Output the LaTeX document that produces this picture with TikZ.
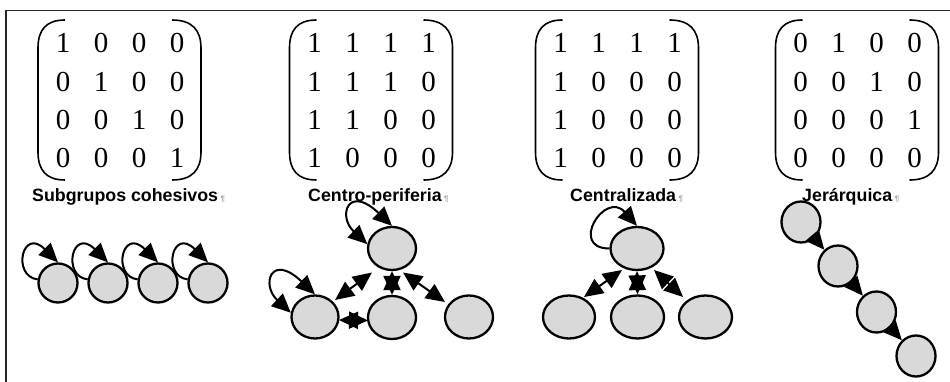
\documentclass[tikz,border=0pt]{standalone}
\usepackage{fontspec}
\setmainfont{Liberation Serif}
\newfontfamily\capfont{Liberation Sans}
\usetikzlibrary{shapes.geometric,arrows.meta,calc}
\definecolor{nodegray}{RGB}{217,217,217}
\newcommand\pilmark{\hspace{2.5pt}{\color{black!35}\fontsize{8}{8}\selectfont ¶}}
\newcommand\matblock[6]{%
  \draw[parenline] ({#1-55},20) .. controls ({#1-74},20) and ({#1-82},30) .. ({#1-82},48)
     -- ({#1-82},152) .. controls ({#1-82},170) and ({#1-74},180) .. ({#1-55},180);
  \draw[parenline] ({#1+52},20) .. controls ({#1+72},20) and ({#1+81},30) .. ({#1+81},48)
     -- ({#1+81},152) .. controls ({#1+81},170) and ({#1+72},180) .. ({#1+52},180);
  \foreach \v [count=\c] in {#3} \node[dig] (#2r1c\c) at ({#1+(\c-2.5)*38},53) {\v};
  \foreach \v [count=\c] in {#4} \node[dig] (#2r2c\c) at ({#1+(\c-2.5)*38},91.5) {\v};
  \foreach \v [count=\c] in {#5} \node[dig] (#2r3c\c) at ({#1+(\c-2.5)*38},130) {\v};
  \foreach \v [count=\c] in {#6} \node[dig] (#2r4c\c) at ({#1+(\c-2.5)*38},168) {\v};
}
\begin{document}
\begin{tikzpicture}[x=1pt,y=-1pt,
  >={Triangle[length=19pt,width=17pt]},
  parenline/.style={line width=1.6pt,black},
  dig/.style={anchor=base,inner sep=0pt,font=\fontsize{29}{29}\selectfont},
  captxt/.style={anchor=base west,inner sep=0pt,font=\capfont\bfseries\fontsize{17.8}{18}\selectfont},
  nd/.style={ellipse,draw=black,fill=nodegray,line width=2.3pt,inner sep=0pt},
  edge/.style={line width=2pt,black},
  framel/.style={line width=1.6pt,black!85}
]
\useasboundingbox (0,0) rectangle (950,382);
\draw[framel] (950,10.5) -- (6,10.5) -- (6,382);

% matrices
\matblock{120}{ma}{1,0,0,0}{0,1,0,0}{0,0,1,0}{0,0,0,1}
\matblock{371.5}{mb}{1,1,1,1}{1,1,1,0}{1,1,0,0}{1,0,0,0}
\matblock{617.5}{mc}{1,1,1,1}{1,0,0,0}{1,0,0,0}{1,0,0,0}
\matblock{857.5}{md}{0,1,0,0}{0,0,1,0}{0,0,0,1}{0,0,0,0}

% captions
\node[captxt] (capa) at (32,201) {Subgrupos cohesivos\pilmark};
\node[captxt] (capb) at (308,201) {Centro-periferia\pilmark};
\node[captxt] (capc) at (570,201) {Centralizada\pilmark};
\node[captxt] (capd) at (802,201) {Jerárquica\pilmark};

% Subgrupos cohesivos
\foreach \i/\x in {1/58,2/108,3/158,4/208}
  \node[nd,minimum width=39pt,minimum height=39pt] (s\i) at (\x,283) {};
\foreach \i in {1,2,3,4}
  \draw[edge,->] (s\i.170) .. controls +(-26,-3) and +(-36,-36) .. (s\i.north);

% Centro-periferia
\node[nd,minimum width=48pt,minimum height=43pt] (cT) at (392,248.5) {};
\node[nd,minimum width=47pt,minimum height=43pt] (cL) at (315,317) {};
\node[nd,minimum width=48pt,minimum height=43pt] (cM) at (392,317.5) {};
\node[nd,minimum width=48pt,minimum height=43pt] (cR) at (469,317) {};
\draw[edge,<->] ($(cT)+(-20,24)$) -- ($(cL)+(20,-17)$);
\draw[edge,<->] (cT.south) -- (cM.north);
\draw[edge,<->] ($(cT)+(11,24)$) -- ($(cR)+(-24,-15)$);
\draw[edge,<->] ($(cL)+(24,3)$) -- ($(cM)+(-24,3)$);
\draw[edge,<->] (cT.170) .. controls +(-30,-28) and +(-44,-42) .. (cT.north);
\draw[edge,<->] (cL.170) .. controls +(-30,-28) and +(-44,-42) .. (cL.north);

% Centralizada
\node[nd,minimum width=53pt,minimum height=43pt] (zT) at (637,248.5) {};
\node[nd,minimum width=52pt,minimum height=43pt] (zL) at (569,317) {};
\node[nd,minimum width=53pt,minimum height=43pt] (zM) at (637.5,317) {};
\node[nd,minimum width=53pt,minimum height=43pt] (zR) at (705.5,317) {};
\draw[edge,<->] ($(zT)+(-15,21.5)$) -- ($(zL)+(15,-20)$);
\draw[edge,<->] (zT.south) -- (zM.north);
\draw[edge,<->] ($(zT)+(17,21.5)$) -- ($(zR)+(-22.5,-20)$);
\draw[edge,->] (zT.west) .. controls +(-41,0) and +(-32,-36) .. (zT.north);

% Jerarquica
\node[nd,minimum width=39pt,minimum height=41pt] (j1) at (801,222) {};
\node[nd,minimum width=39pt,minimum height=41pt] (j2) at (838,266) {};
\node[nd,minimum width=39pt,minimum height=41pt] (j3) at (876.5,312) {};
\node[nd,minimum width=39pt,minimum height=41pt] (j4) at (916,356) {};
\draw[edge,->] (j1) -- (j2);
\draw[edge,->] (j2) -- (j3);
\draw[edge,->] (j3) -- (j4);
\end{tikzpicture}
\end{document}
